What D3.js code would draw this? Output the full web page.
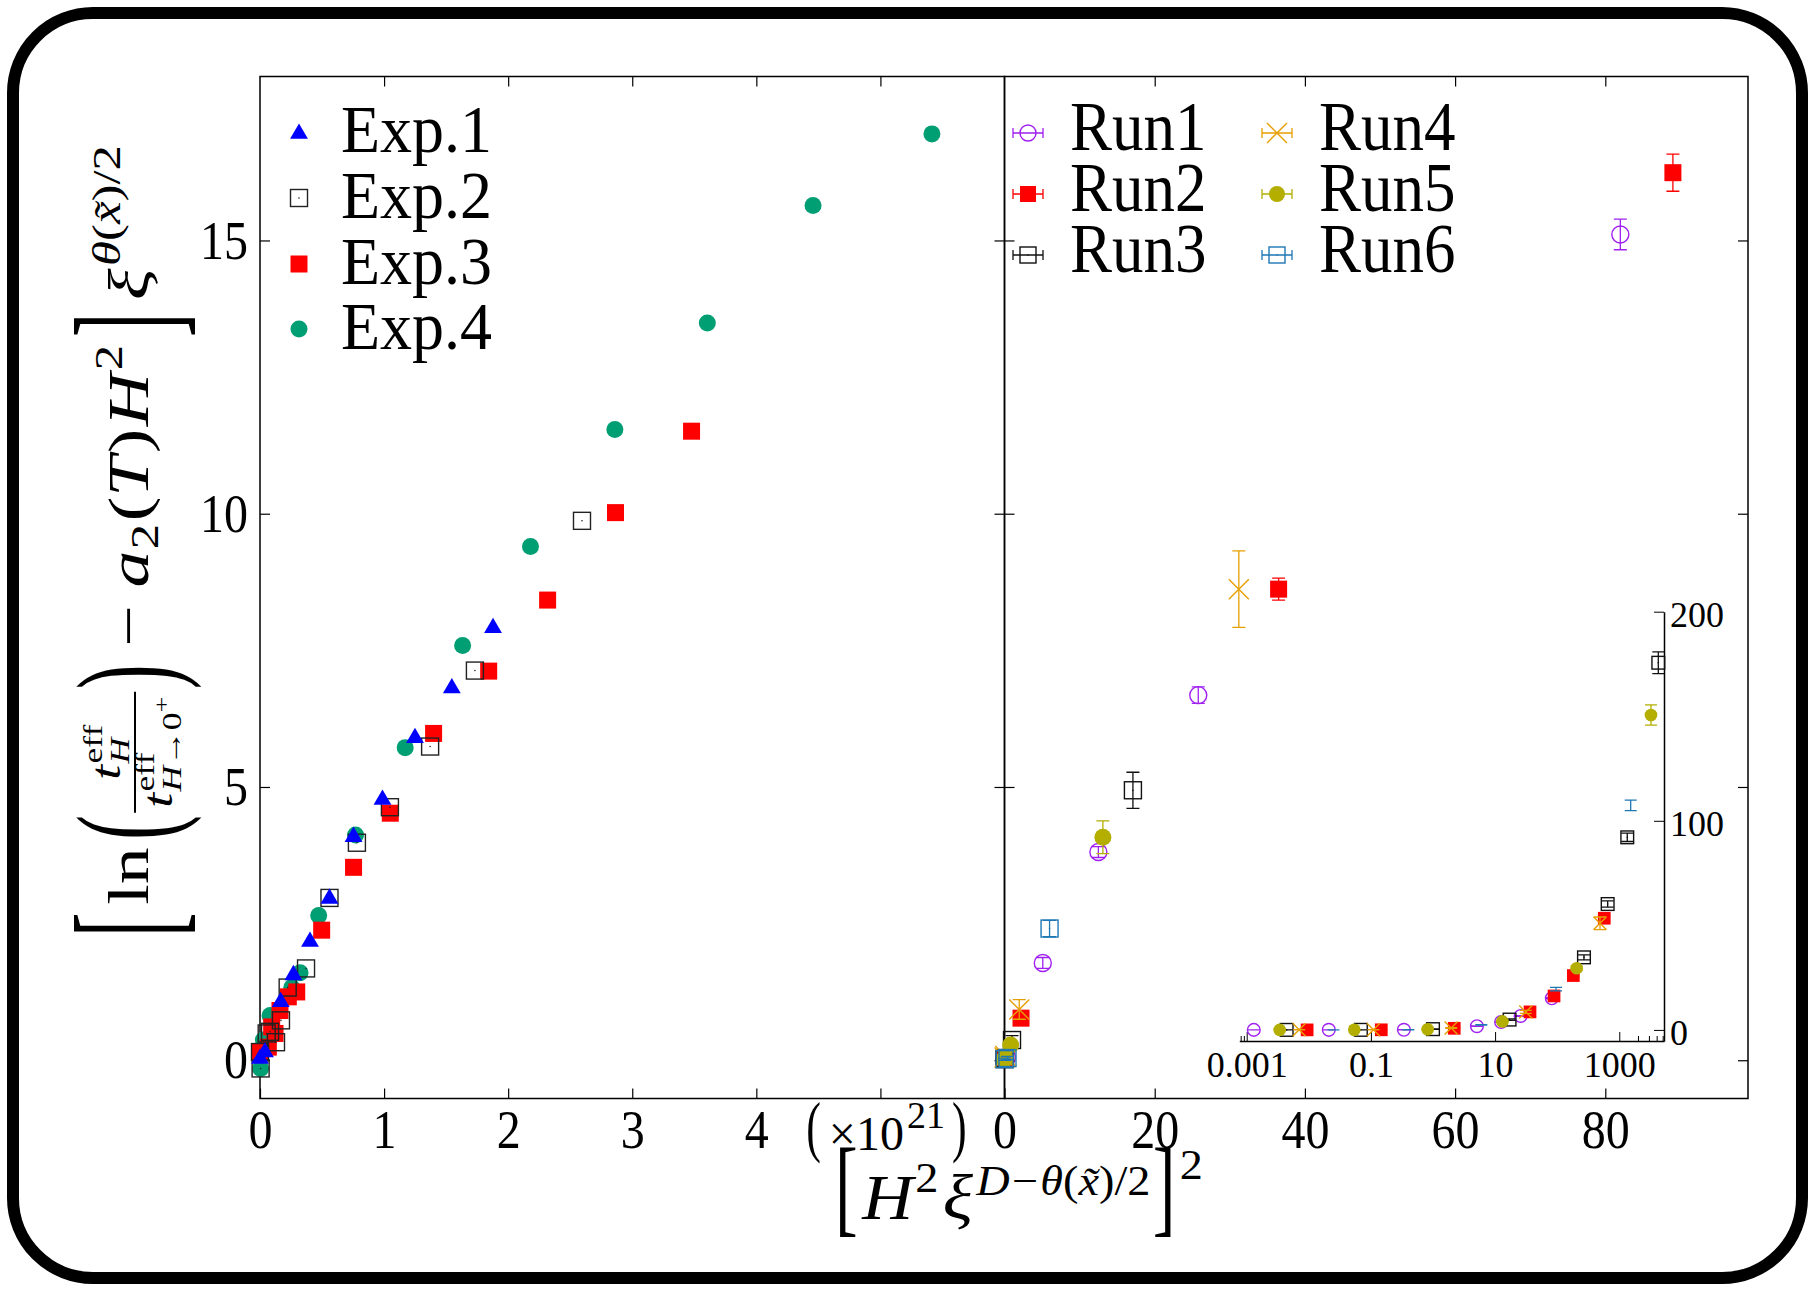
<!DOCTYPE html>
<html>
<head>
<meta charset="utf-8">
<script src="https://cdn.jsdelivr.net/npm/d3@7"></script>
<style>
  body { margin: 0; background: #fff; }
  svg text { font-family: "Liberation Serif", "DejaVu Serif", serif; fill: #000; }
</style>
</head>
<body>
<script>
// ---- data ----
const expLabels = ["Exp.1", "Exp.2", "Exp.3", "Exp.4"];
const exp1X = [0.0, 0.04, 0.167, 0.269, 0.403, 0.56, 0.754, 0.987, 1.249, 1.546, 1.878];
const exp1Y = [0.06, 0.18, 1.10, 1.59, 2.20, 2.99, 4.12, 4.80, 5.93, 6.84, 7.94];
const exp2X = [0.005, 0.0, 0.054, 0.081, 0.129, 0.169, 0.223, 0.371, 0.56, 0.781, 1.047, 1.371, 1.732, 2.595];
const exp2Y = [-0.15, 0.15, 0.49, 0.52, 0.33, 0.73, 1.33, 1.68, 2.97, 3.98, 4.63, 5.74, 7.13, 9.87];
const exp3X = [0.0, 0.067, 0.094, 0.121, 0.161, 0.228, 0.296, 0.497, 0.754, 1.05, 1.399, 1.843, 2.318, 2.865, 3.478];
const exp3Y = [0.15, 0.24, 0.61, 0.49, 0.91, 1.16, 1.25, 2.38, 3.53, 4.52, 5.98, 7.12, 8.42, 10.02, 11.51];
const exp4X = [0.005, 0.027, 0.081, 0.256, 0.323, 0.473, 0.77, 1.17, 1.633, 2.18, 2.86, 3.605, 4.457, 5.415];
const exp4Y = [-0.15, 0.37, 0.82, 1.33, 1.60, 2.65, 4.12, 5.72, 7.59, 9.40, 11.54, 13.49, 15.64, 16.95];

const runLabels = ["Run1", "Run2", "Run3", "Run4", "Run5", "Run6"];
const run1X = [0.0013, 0.021, 0.34, 5.1, 12.5, 25.8, 82];
const run1Y = [0.02, 0.03, 0.06, 1.78, 3.81, 6.68, 15.11];
const run1E = [0.02, 0.02, 0.03, 0.1, 0.1, 0.15, 0.28];
const run2X = [0.0094, 0.147, 2.2, 36.5, 89, 182, 573];
const run2Y = [0.02, 0.05, 0.77, 8.62, 16.24, 26.0, 53.4];
const run2E = [0.02, 0.02, 0.05, 0.2, 0.34, 0.5, 1.2];
const run3X = [0.0044, 0.069, 1.0, 17.1, 270, 650, 1345, 4250];
const run3Y = [0.02, 0.04, 0.37, 4.94, 34.7, 60.2, 92.1, 175.6];
const run3E = [0.02, 0.02, 0.08, 0.33, 1.2, 1.5, 2, 5.2];
const run4X = [0.007, 0.11, 1.96, 31.2, 489];
const run4Y = [0.05, 0.08, 0.93, 8.62, 51.0];
const run4E = [0.05, 0.05, 0.18, 0.7, 3];
const run5X = [0.0034, 0.054, 0.82, 13.1, 206, 3240];
const run5Y = [0.02, 0.04, 0.28, 4.08, 29.5, 150.6];
const run5E = [0.02, 0.02, 0.05, 0.3, 1, 4.8];
const run6X = [0.025, 0.4, 6.0, 95.7, 1527];
const run6Y = [0.02, 0.04, 2.41, 19.5, 107.4];
const run6E = [0.02, 0.03, 0.15, 0.8, 2.5];

const leftTicks = [0, 1, 2, 3, 4, 5];
const rightTicks = [0, 20, 40, 60, 80];
const yTicks = [0, 5, 10, 15];
const insetXTicks = [0.001, 0.1, 10, 1000];
const insetXMinor = [0.0008, 0.0009, 2000, 3000, 4000, 5000];
const insetYTicks = [0, 100, 200];

// ---- layout ----
const W = 1814, H = 1289;
const svg = d3.select("body").append("svg").attr("width", W).attr("height", H);

const xL = d3.scaleLinear().domain([0, 6]).range([260, 1004.5]);
const xR = d3.scaleLinear().domain([0, 99]).range([1004.5, 1748]);
const yM = d3.scaleLinear().domain([-0.7, 18]).range([1098.5, 76.5]);
const xI = d3.scaleLog().domain([7.6e-4, 5250]).range([1239.3, 1664]);
const yI = d3.scaleLinear().domain([-5.3, 200]).range([1041, 611.7]);

// rounded outer frame
svg.append("rect").attr("x", 13).attr("y", 13).attr("width", 1789).attr("height", 1265)
  .attr("rx", 80).attr("fill", "none").attr("stroke", "#000").attr("stroke-width", 12);

// panel frames
[[260, 1004.5], [1004.5, 1748]].forEach(([a, b]) => {
  svg.append("rect").attr("x", a).attr("y", 76.5).attr("width", b - a).attr("height", 1022)
    .attr("fill", "none").attr("stroke", "#000").attr("stroke-width", 1.5);
});

function styleAxis(g, keepText) {
  g.attr("font-family", null).attr("font-size", null);
  g.select(".domain").remove();
  g.selectAll(".tick line").attr("stroke-width", 1.2);
  if (!keepText) g.selectAll(".tick text").remove();
}

// left panel axes
const gLB = svg.append("g").attr("transform", "translate(0,1098.5)")
  .call(d3.axisBottom(xL).tickValues(leftTicks).tickSizeInner(-10).tickSizeOuter(0)
    .tickFormat(d3.format("d")));
styleAxis(gLB, true);
gLB.selectAll(".tick").filter(d => d === 5).select("text").remove();
gLB.selectAll(".tick text").attr("font-size", 48).attr("dy", null)
  .attr("y", 49.5 / 1.15).attr("transform", "scale(1,1.15)");
const gLT = svg.append("g").attr("transform", "translate(0,76.5)")
  .call(d3.axisTop(xL).tickValues(leftTicks.slice(1)).tickSizeInner(-10).tickSizeOuter(0));
styleAxis(gLT);
const gLL = svg.append("g").attr("transform", "translate(260,0)")
  .call(d3.axisLeft(yM).tickValues(yTicks).tickSizeInner(-10).tickSizeOuter(0).tickPadding(12)
    .tickFormat(d3.format("d")));
styleAxis(gLL, true);
gLL.selectAll(".tick text").attr("font-size", 48).attr("transform", "scale(1,1.15)");
const gLR = svg.append("g").attr("transform", "translate(1004.5,0)")
  .call(d3.axisRight(yM).tickValues(yTicks).tickSizeInner(-10).tickSizeOuter(0));
styleAxis(gLR);

// right panel axes
const gRB = svg.append("g").attr("transform", "translate(0,1098.5)")
  .call(d3.axisBottom(xR).tickValues(rightTicks).tickSizeInner(-10).tickSizeOuter(0)
    .tickFormat(d3.format("d")));
styleAxis(gRB, true);
gRB.selectAll(".tick text").attr("font-size", 48).attr("dy", null)
  .attr("y", 49.5 / 1.15).attr("transform", "scale(1,1.15)");
const gRT = svg.append("g").attr("transform", "translate(0,76.5)")
  .call(d3.axisTop(xR).tickValues(rightTicks.slice(1)).tickSizeInner(-10).tickSizeOuter(0));
styleAxis(gRT);
const gRL = svg.append("g").attr("transform", "translate(1004.5,0)")
  .call(d3.axisLeft(yM).tickValues(yTicks).tickSizeInner(-10).tickSizeOuter(0));
styleAxis(gRL);
const gRR = svg.append("g").attr("transform", "translate(1748,0)")
  .call(d3.axisRight(yM).tickValues(yTicks).tickSizeInner(-10).tickSizeOuter(0));
styleAxis(gRR);

// math-ish text flow helper
function flow(g, items) {
  let cur = 0, prevStart = 0, prevEnd = 0;
  items.forEach(it => {
    let start = cur + (it.gap || 0);
    if (it.at === "stack") start = prevStart;
    if (it.at === "cont") start = prevEnd + (it.gap || 0);
    let w;
    if (it.big) {
      const f = it.size, s = it.h / (0.86 * f);
      const t = g.append("text").text(it.big).attr("font-size", f)
        .attr("transform", `translate(${start},${it.cy + 0.25 * f * s}) scale(1,${s})`);
      w = t.node().getComputedTextLength();
    } else if (it.frac) {
      const fg = g.append("g");
      const ng = fg.append("g"), dg = fg.append("g");
      const wn = flow(ng, it.num), wd = flow(dg, it.den);
      w = Math.max(wn, wd) + 2 * it.pad;
      ng.attr("transform", `translate(${start + (w - wn) / 2},${it.numY})`);
      dg.attr("transform", `translate(${start + (w - wd) / 2},${it.denY})`);
      fg.append("line").attr("x1", start).attr("x2", start + w)
        .attr("y1", it.barY).attr("y2", it.barY).attr("stroke", "#000").attr("stroke-width", 2);
    } else {
      const t = g.append("text").attr("x", start).attr("y", it.dy || 0)
        .attr("font-size", it.size).attr("font-style", it.it ? "italic" : null).text(it.t);
      w = t.node().getComputedTextLength();
    }
    prevStart = start; prevEnd = start + w;
    cur = Math.max(cur, start + w);
  });
  return cur;
}

// "(x10^21)" label in place of tick 5
const mult = svg.append("g");
const mw = flow(mult, [
  { big: "(", size: 44, cy: -18, h: 59 },
  { t: "×10", size: 48, gap: 8 },
  { t: "21", size: 38, dy: -22, gap: 3 },
  { big: ")", size: 44, cy: -18, h: 59, gap: 7 }
]);
mult.attr("transform", `translate(${xL(5) + 6 - mw / 2},1150)`);

// x axis label
const xl = svg.append("g");
const xlw = flow(xl, [
  { big: "[", size: 62, cy: -23, h: 92 },
  { t: "H", size: 64, it: 1, gap: 4 },
  { t: "2", size: 42, dy: -27, gap: 2 },
  { t: "ξ", size: 64, it: 1, gap: 4 },
  { t: "D", size: 42, it: 1, dy: -24, gap: 3 },
  { t: "−", size: 42, dy: -24, gap: 2 },
  { t: "θ", size: 42, it: 1, dy: -24, gap: 2 },
  { t: "(", size: 42, dy: -24 },
  { t: "x̃", size: 42, it: 1, dy: -24 },
  { t: ")/2", size: 42, dy: -24 },
  { big: "]", size: 62, cy: -23, h: 92, gap: 2 },
  { t: "2", size: 42, dy: -40, gap: 4 }
]);
xl.attr("transform", `translate(835,1219) scale(${368 / xlw},1)`);

// y axis label (rotated)
const yl = svg.append("g");
const ylw = flow(yl, [
  { big: "[", size: 58, cy: -10, h: 126 },
  { t: "ln", size: 58, gap: 6 },
  { big: "(", size: 58, cy: -10, h: 118, gap: 6 },
  { frac: true, pad: 4, barY: -13, numY: -28, denY: 24, gap: 2,
    num: [{ t: "t", size: 42, it: 1 }, { t: "eff", size: 28, dy: -18, gap: 1 },
          { t: "H", size: 28, it: 1, dy: 9, at: "stack" }],
    den: [{ t: "t", size: 42, it: 1 }, { t: "eff", size: 28, dy: -18, gap: 1 },
          { t: "H", size: 28, it: 1, dy: 9, at: "stack" }, { t: "→0", size: 28, dy: 9, at: "cont" },
          { t: "+", size: 22, dy: -3, at: "cont" }] },
  { big: ")", size: 58, cy: -10, h: 118, gap: 2 },
  { t: "−", size: 58, gap: 14 },
  { t: "a", size: 58, it: 1, gap: 14 },
  { t: "2", size: 40, dy: 10, gap: 1 },
  { t: "(", size: 58, gap: 2 },
  { t: "T", size: 58, it: 1 },
  { t: ")", size: 58, gap: 2 },
  { t: "H", size: 58, it: 1, gap: 2 },
  { t: "2", size: 40, dy: -26, gap: 2 },
  { big: "]", size: 58, cy: -10, h: 126, gap: 6 },
  { t: "ξ", size: 58, it: 1, gap: 10 },
  { t: "θ", size: 40, it: 1, dy: -28, gap: 2 },
  { t: "(", size: 40, dy: -28 },
  { t: "x̃", size: 40, it: 1, dy: -28 },
  { t: ")/2", size: 40, dy: -28 }
]);
yl.attr("transform", `translate(148,937) rotate(-90) scale(${792 / ylw},1)`);

// ---- markers ----
function marker(g, type, cx, cy, s, color) {
  const h = s / 2;
  if (type === "tri") {
    g.append("path").attr("d", `M${cx},${cy - h} L${cx + h * 1.05},${cy + h * 0.8} L${cx - h * 1.05},${cy + h * 0.8} Z`)
      .attr("fill", color);
  } else if (type === "sq") {
    g.append("rect").attr("x", cx - h).attr("y", cy - h).attr("width", s).attr("height", s).attr("fill", color);
  } else if (type === "osq") {
    g.append("rect").attr("x", cx - h).attr("y", cy - h).attr("width", s).attr("height", s)
      .attr("fill", "none").attr("stroke", color).attr("stroke-width", 1.4);
    g.append("circle").attr("cx", cx).attr("cy", cy).attr("r", 0.8).attr("fill", color);
  } else if (type === "circ") {
    g.append("circle").attr("cx", cx).attr("cy", cy).attr("r", h).attr("fill", color);
  } else if (type === "ocirc") {
    g.append("circle").attr("cx", cx).attr("cy", cy).attr("r", h)
      .attr("fill", "none").attr("stroke", color).attr("stroke-width", 1.4);
  } else if (type === "x") {
    g.append("path").attr("d", `M${cx - h},${cy - h} L${cx + h},${cy + h} M${cx - h},${cy + h} L${cx + h},${cy - h}`)
      .attr("stroke", color).attr("stroke-width", 1.4);
  }
}

function errbar(g, cx, y0, y1, cap, color) {
  g.append("path")
    .attr("d", `M${cx},${y0} L${cx},${y1} M${cx - cap},${y0} L${cx + cap},${y0} M${cx - cap},${y1} L${cx + cap},${y1}`)
    .attr("stroke", color).attr("stroke-width", 1.3).attr("fill", "none");
}

// left panel experimental series (drawn back to front)
const exps = [
  { x: exp1X, y: exp1Y, type: "tri", color: "#0000ff" },
  { x: exp2X, y: exp2Y, type: "osq", color: "#222222" },
  { x: exp3X, y: exp3Y, type: "sq", color: "#ff0000" },
  { x: exp4X, y: exp4Y, type: "circ", color: "#009e73" }
];
const gExp = svg.append("g");
[3, 2, 1, 0].forEach(k => {
  const e = exps[k];
  e.x.forEach((v, i) => marker(gExp, e.type, xL(v), yM(e.y[i]), 17, e.color));
});

// right panel and inset runs
const runs = [
  { x: run1X, y: run1Y, e: run1E, type: "ocirc", color: "#a020f0" },
  { x: run2X, y: run2Y, e: run2E, type: "sq", color: "#ff0000" },
  { x: run3X, y: run3Y, e: run3E, type: "osq", color: "#111111" },
  { x: run4X, y: run4Y, e: run4E, type: "x", color: "#e69f00" },
  { x: run5X, y: run5Y, e: run5E, type: "circ", color: "#b3ae00" },
  { x: run6X, y: run6Y, e: run6E, type: "osq", color: "#1f77b4" }
];
const gRun = svg.append("g");
runs.forEach(r => {
  r.x.forEach((v, i) => {
    if (v > 99 || r.y[i] > 18) return;
    const cx = xR(v);
    errbar(gRun, cx, yM(r.y[i] - r.e[i]), yM(r.y[i] + r.e[i]), 6.5, r.color);
    marker(gRun, r.type, cx, yM(r.y[i]), r.type === "x" ? 20 : 17, r.color);
  });
});

// inset axes
const gIB = svg.append("g").attr("transform", "translate(0,1041)")
  .call(d3.axisBottom(xI).tickValues(insetXTicks).tickSizeInner(-9).tickSizeOuter(0)
    .tickFormat(d3.format("~g")));
gIB.attr("font-family", null).attr("font-size", null);
gIB.select(".domain").attr("stroke-width", 1.5);
gIB.selectAll(".tick text").attr("font-size", 36).attr("dy", null).attr("y", 36);
const gIM = svg.append("g").attr("transform", "translate(0,1041)")
  .call(d3.axisBottom(xI).tickValues(insetXMinor).tickSizeInner(-5).tickSizeOuter(0));
gIM.select(".domain").remove();
gIM.selectAll(".tick text").remove();
const gIR = svg.append("g").attr("transform", "translate(1664,0)")
  .call(d3.axisRight(yI).tickValues(insetYTicks).tickSizeInner(-10).tickSizeOuter(0).tickPadding(6));
gIR.attr("font-family", null).attr("font-size", null);
gIR.select(".domain").attr("stroke-width", 1.5);
gIR.selectAll(".tick text").attr("font-size", 36).attr("dy", "0.4em");

const gIn = svg.append("g");
runs.forEach((r, k) => {
  r.x.forEach((v, i) => {
    const cx = xI(v);
    errbar(gIn, cx, yI(r.y[i] - r.e[i]), yI(r.y[i] + r.e[i]), 6, r.color);
    if (k !== 5) marker(gIn, r.type, cx, yI(r.y[i]), r.type === "x" ? 13 : 12.7, r.color);
  });
});

// legends
const gLeg = svg.append("g");
const legY = [132, 198, 264, 329];
exps.forEach((e, i) => {
  marker(gLeg, e.type, 299, legY[i], 17, e.color);
  gLeg.append("text").attr("font-size", 64)
    .attr("transform", `translate(341,${legY[i] + 20}) scale(1,1.06)`).text(expLabels[i]);
});
const runLegX = [1028, 1277], runLegY = [133, 194, 255];
runs.forEach((r, i) => {
  const cx = runLegX[Math.floor(i / 3)], cy = runLegY[i % 3];
  gLeg.append("path")
    .attr("d", `M${cx - 15},${cy} L${cx + 15},${cy} M${cx - 15},${cy - 5} L${cx - 15},${cy + 5} M${cx + 15},${cy - 5} L${cx + 15},${cy + 5}`)
    .attr("stroke", r.color).attr("stroke-width", 1.3);
  marker(gLeg, r.type, cx, cy, r.type === "x" ? 20 : 16, r.color);
  gLeg.append("text").attr("font-size", 63)
    .attr("transform", `translate(${cx + 42},${cy + 17}) scale(1,1.1)`).text(runLabels[i]);
});
</script>
</body>
</html>
